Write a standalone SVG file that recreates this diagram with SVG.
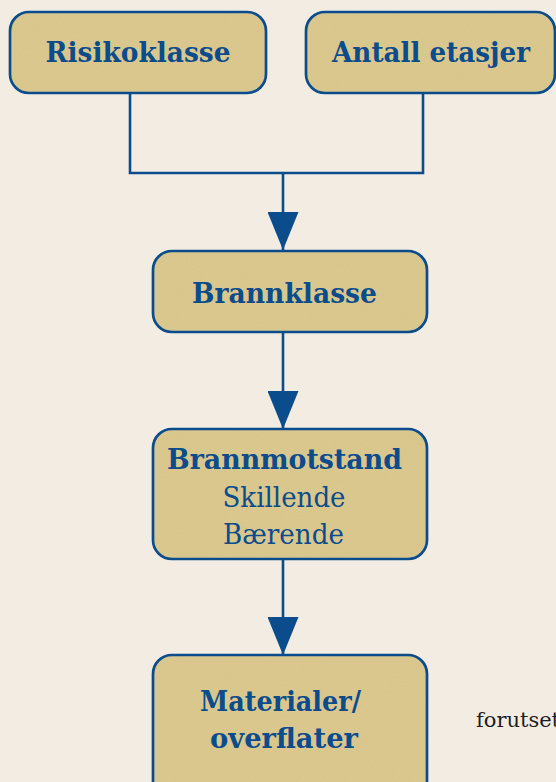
<svg xmlns="http://www.w3.org/2000/svg" width="556" height="782" viewBox="0 0 556 782">
<defs>
<filter id="grain" x="0" y="0" width="100%" height="100%">
<feTurbulence type="fractalNoise" baseFrequency="0.9" numOctaves="2" seed="3" result="n"/>
<feColorMatrix in="n" type="matrix" values="0 0 0 0 0.6  0 0 0 0 0.5  0 0 0 0 0.25  0 0 0 0.45 -0.08" result="c"/>
<feComposite in="c" in2="SourceGraphic" operator="in" result="t"/>
<feMerge><feMergeNode in="SourceGraphic"/><feMergeNode in="t"/></feMerge>
</filter>
<marker id="arr" viewBox="0 0 38 31" refX="38" refY="15.5" markerWidth="38" markerHeight="31" markerUnits="userSpaceOnUse" orient="auto">
<path d="M0,0 L38,15.5 L0,31 z" fill="#0b4c8c"/>
</marker>
<style>
.fill{fill:#dcc98f;stroke:none}
.edge{fill:none;stroke:#0b4c8c;stroke-width:2.7}
.t{font-family:"DejaVu Serif","Liberation Serif",serif;font-weight:bold;font-size:27px;fill:#0b4c8c;text-anchor:middle}
.r{font-family:"DejaVu Serif","Liberation Serif",serif;font-size:27px;fill:#0b4c8c;text-anchor:middle}
.c{fill:none;stroke:#0b4c8c;stroke-width:2.6}
</style>
</defs>
<rect width="556" height="782" fill="#f3ece2"/>
<g id="connectors">
<polyline class="c" points="130,93 130,173 423,173 423,93"/>
<line class="c" x1="283" y1="173" x2="283" y2="250" marker-end="url(#arr)"/>
<line class="c" x1="283" y1="332" x2="283" y2="429" marker-end="url(#arr)"/>
<line class="c" x1="283" y1="559" x2="283" y2="655" marker-end="url(#arr)"/>
</g>
<g id="risikoklasse">
<rect class="fill" x="10" y="12" width="256" height="81" rx="19" filter="url(#grain)"/>
<rect class="edge" x="10" y="12" width="256" height="81" rx="19"/>
<text class="t" x="138" y="62" textLength="185" lengthAdjust="spacingAndGlyphs">Risikoklasse</text>
</g>
<g id="antall-etasjer">
<rect class="fill" x="306" y="12" width="249" height="81" rx="19" filter="url(#grain)"/>
<rect class="edge" x="306" y="12" width="249" height="81" rx="19"/>
<text class="t" x="431" y="62" textLength="198" lengthAdjust="spacingAndGlyphs">Antall etasjer</text>
</g>
<g id="brannklasse">
<rect class="fill" x="153" y="251" width="274" height="81" rx="19" filter="url(#grain)"/>
<rect class="edge" x="153" y="251" width="274" height="81" rx="19"/>
<text class="t" x="284.5" y="303" textLength="185" lengthAdjust="spacingAndGlyphs">Brannklasse</text>
</g>
<g id="brannmotstand">
<rect class="fill" x="153" y="429" width="274" height="130" rx="19" filter="url(#grain)"/>
<rect class="edge" x="153" y="429" width="274" height="130" rx="19"/>
<text class="t" x="284.5" y="469" textLength="235" lengthAdjust="spacingAndGlyphs">Brannmotstand</text>
<text class="r" x="284" y="507" textLength="123" lengthAdjust="spacingAndGlyphs">Skillende</text>
<text class="r" x="283.5" y="544" textLength="121" lengthAdjust="spacingAndGlyphs">Bærende</text>
</g>
<g id="materialer">
<rect class="fill" x="153" y="655" width="274" height="150" rx="19" filter="url(#grain)"/>
<rect class="edge" x="153" y="655" width="274" height="150" rx="19"/>
<text class="t" x="280.5" y="711" textLength="161" lengthAdjust="spacingAndGlyphs">Materialer/</text>
<text class="t" x="284" y="748" textLength="148" lengthAdjust="spacingAndGlyphs">overflater</text>
</g>
<text x="476" y="727" font-family="DejaVu Serif, serif" font-size="21" fill="#1e1e1e">forutset</text>
</svg>
